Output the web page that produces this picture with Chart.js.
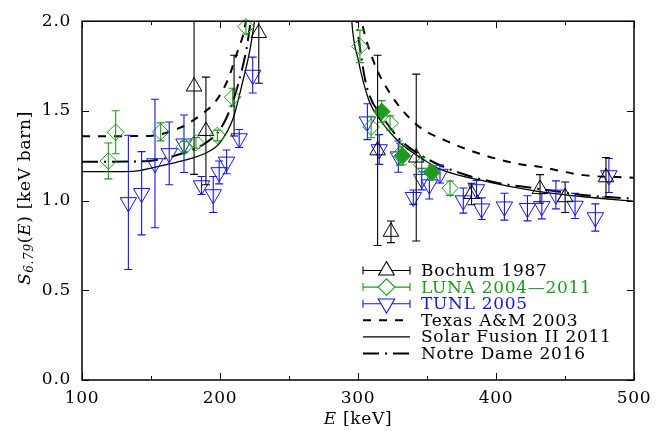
<!DOCTYPE html>
<html><head><meta charset="utf-8">
<script src="https://cdn.jsdelivr.net/npm/chart.js@4/dist/chart.umd.min.js"></script>
<style>html,body{margin:0;padding:0;background:#fff;}#wrap{position:relative;width:663px;height:431px;}</style>
</head><body><div id="wrap"><canvas id="c" width="663" height="431"></canvas></div>
<script>
// ---------- data (E in keV, S in keV barn) ----------
const bochumE   = [181.2, 189.8, 210.2, 228.1, 314.2, 323.9, 342.2, 382.3, 431.9, 450.1, 479.7];
const bochumS   = [1.636, 1.388, 1.585, 1.934, 1.28, 0.826, 1.24, 1.037, 1.065, 1.019, 1.13];
const bochumErr = [0.49, 0.30, 0.225, 0.28, 0.53, 0.06, 0.465, 0.06, 0.08, 0.085, 0.11];
const bochumHidden = [0, 0, 1, 0, 0, 0, 0, 0, 0, 0, 0];   // marker hidden behind a LUNA point

const lunaE   = [119.1, 124.4, 157.0, 174.2, 182.6, 198.1, 209.2, 218.8, 301.4, 309.5, 317.2, 323.2, 330.4, 332.3, 346.2, 353.5, 366.7];
const lunaS   = [1.221, 1.381, 1.383, 1.30, 1.322, 1.363, 1.576, 1.969, 1.859, 1.41, 1.497, 1.432, 1.258, 1.25, 1.20, 1.157, 1.069];
const lunaErr = [0.10, 0.12, 0.05, 0.03, 0.03, 0.03, 0.05, 0.04, 0.09, 0.06, 0.06, 0.04, 0.06, 0.05, 0.04, 0.04, 0.04];
const lunaFilled = [0,0,0,0,0,0,0,0,0,0,1,0,0,1,0,1,0];

const tunlE   = [133.6, 143.2, 152.9, 163.2, 173.9, 186.6, 195.1, 199.4, 204.8, 213.9, 223.7, 306.8, 315.4, 329.2, 340.1, 346.2, 351.7, 359.4, 376.3, 385.9, 389.6, 406.1, 422.8, 433.2, 443.4, 457.3, 472.0, 481.8];
const tunlS   = [0.99, 1.041, 1.207, 1.263, 1.317, 1.084, 1.034, 1.157, 1.216, 1.346, 1.70, 1.44, 1.285, 1.245, 1.019, 1.12, 1.089, 1.148, 1.0, 1.062, 0.955, 0.966, 0.957, 0.968, 1.032, 0.97, 0.906, 1.14];
const tunlErr = [0.374, 0.232, 0.358, 0.175, 0.16, 0.05, 0.10, 0.064, 0.066, 0.05, 0.10, 0.10, 0.083, 0.087, 0.04, 0.06, 0.08, 0.05, 0.07, 0.05, 0.06, 0.075, 0.07, 0.07, 0.078, 0.07, 0.076, 0.095];

// curves, left and right branches of the resonance
const texasLeftE  = [100, 146.7, 170.7, 185.2, 197.6, 206.0, 212.1, 216.9, 220];
const texasLeftS  = [1.359, 1.36, 1.405, 1.473, 1.561, 1.68, 1.818, 1.928, 2.05];
const texasRightE = [301.5, 302.7, 311.1, 323.2, 342.5, 364.3, 392, 417.4, 432, 463, 500];
const texasRightS = [2.06, 2.0, 1.78, 1.598, 1.423, 1.332, 1.252, 1.203, 1.188, 1.142, 1.128];

const sf2LeftE  = [100, 136.7, 152.6, 170.7, 190.2, 199.9, 209.6, 216.7, 221.6, 225, 227];
const sf2LeftS  = [1.161, 1.163, 1.185, 1.218, 1.267, 1.322, 1.46, 1.671, 1.836, 2.0, 2.12];
const sf2RightE = [295, 295.5, 300.3, 303.9, 308.7, 315.9, 330.4, 347.3, 359.4, 395.7, 427, 465, 500];
const sf2RightS = [2.08, 2.0, 1.78, 1.66, 1.543, 1.451, 1.322, 1.23, 1.175, 1.102, 1.056, 1.02, 0.996];

const ndLeftE  = [100, 145.7, 170.7, 189.4, 199.9, 207.2, 213.3, 219.4, 222.2, 224];
const ndLeftS  = [1.216, 1.22, 1.258, 1.32, 1.395, 1.506, 1.653, 1.855, 2.0, 2.1];
const ndRightE = [298, 299, 302, 306.3, 318.4, 330.4, 347.3, 371.5, 400.5, 427, 465, 500];
const ndRightS = [2.08, 2.0, 1.82, 1.635, 1.46, 1.34, 1.245, 1.16, 1.10, 1.07, 1.03, 1.01];

const xTicks = [100, 200, 300, 400, 500];
const yTicks = [0.0, 0.5, 1.0, 1.5, 2.0];
const legendLabels = ['Bochum 1987', 'LUNA 2004\u20142011', 'TUNL 2005', 'Texas A&M 2003', 'Solar Fusion II 2011', 'Notre Dame 2016'];

// ---------- styles ----------
const FONT = '"DejaVu Serif", serif';
const BLACK = '#000000', GREEN = '#1e9a1e', BLUE = '#1414f0';
const DASH_TEXAS = [8, 8], DASH_ND = [16, 6, 2, 6];

const pts = (xs, ys) => xs.map((x, i) => ({x, y: ys[i]}));

function markerSet(label, xs, ys, errs, color, style, radius, rot, bg) {
  return {
    label, data: pts(xs, ys), errors: errs,
    showLine: false, borderColor: color, pointBorderColor: color,
    pointBackgroundColor: bg || 'rgba(0,0,0,0)', pointStyle: style,
    pointRadius: radius, pointBorderWidth: 1, pointRotation: rot, clip: false
  };
}
function curveSet(label, xs, ys, dash, width) {
  return {
    label, data: pts(xs, ys), showLine: true, pointRadius: 0, borderColor: BLACK,
    borderWidth: width, borderDash: dash, fill: false,
    cubicInterpolationMode: 'monotone'
  };
}

const datasets = [
  markerSet('Bochum 1987', bochumE, bochumS, bochumErr, BLACK, 'triangle', bochumHidden.map(h => h ? 0 : 9), 0),
  markerSet('LUNA', lunaE, lunaS, lunaErr, GREEN, 'rectRot', 8.3, 0, lunaFilled.map(f => f ? GREEN : 'rgba(0,0,0,0)')),
  markerSet('TUNL 2005', tunlE, tunlS, tunlErr, BLUE, 'triangle', 9.5, 180),
  curveSet('Texas L', texasLeftE, texasLeftS, DASH_TEXAS, 2),
  curveSet('Texas R', texasRightE, texasRightS, DASH_TEXAS, 2),
  curveSet('SF2 L', sf2LeftE, sf2LeftS, [], 1.3),
  curveSet('SF2 R', sf2RightE, sf2RightS, [], 1.3),
  curveSet('ND L', ndLeftE, ndLeftS, DASH_ND, 2),
  curveSet('ND R', ndRightE, ndRightS, DASH_ND, 2)
];

// ---------- plugins ----------
const errorBars = {
  id: 'errorBars',
  beforeDatasetDraw(chart, args) {
    const ds = chart.data.datasets[args.index];
    if (!ds.errors) return;
    const ctx = chart.ctx, ys = chart.scales.y, ca = chart.chartArea;
    ctx.save();
    ctx.beginPath(); ctx.rect(ca.left, ca.top, ca.right - ca.left, ca.bottom - ca.top); ctx.clip();
    ctx.strokeStyle = ds.borderColor; ctx.lineWidth = 1.1; ctx.setLineDash([]);
    args.meta.data.forEach((el, i) => {
      const d = ds.data[i], e = ds.errors[i];
      const yt = ys.getPixelForValue(d.y + e), yb = ys.getPixelForValue(d.y - e);
      const x = el.x;
      ctx.beginPath();
      ctx.moveTo(x, yt); ctx.lineTo(x, yb);
      ctx.moveTo(x - 4, yt); ctx.lineTo(x + 4, yt);
      ctx.moveTo(x - 4, yb); ctx.lineTo(x + 4, yb);
      ctx.stroke();
    });
    ctx.restore();
  }
};

function drawTri(ctx, x, y, r, down) {
  const s = down ? -1 : 1;
  ctx.beginPath();
  ctx.moveTo(x, y - s * r);
  ctx.lineTo(x + r * 0.866, y + s * r * 0.5);
  ctx.lineTo(x - r * 0.866, y + s * r * 0.5);
  ctx.closePath(); ctx.stroke();
}
function drawDiamond(ctx, x, y, r) {
  ctx.beginPath();
  ctx.moveTo(x - r, y); ctx.lineTo(x, y - r); ctx.lineTo(x + r, y); ctx.lineTo(x, y + r);
  ctx.closePath(); ctx.stroke();
}
function richWidth(ctx, parts) {
  let w = 0;
  parts.forEach(p => { ctx.font = p.f; w += ctx.measureText(p.t).width; });
  return w;
}
function drawRich(ctx, parts, x, y) {
  let cx = x;
  parts.forEach(p => { ctx.font = p.f; ctx.fillText(p.t, cx, y + (p.dy || 0)); cx += ctx.measureText(p.t).width; });
}

const frameAndText = {
  id: 'frameAndText',
  beforeDraw(chart) { try { chart.ctx.letterSpacing = '0.7px'; } catch (e) {} },
  afterDraw(chart) {
    const ctx = chart.ctx, ca = chart.chartArea, xs = chart.scales.x, ys = chart.scales.y;
    ctx.save();
    ctx.setLineDash([]);
    ctx.strokeStyle = BLACK;
    // inward ticks
    ctx.lineWidth = 1;
    ctx.beginPath();
    for (let v = 100; v <= 500; v += 50) {
      const x = Math.round(xs.getPixelForValue(v)) + 0.5;
      const L = (v % 100 === 0) ? 7 : 4;
      ctx.moveTo(x, ca.bottom); ctx.lineTo(x, ca.bottom - L);
      ctx.moveTo(x, ca.top); ctx.lineTo(x, ca.top + L);
    }
    yTicks.forEach(v => {
      const y = Math.round(ys.getPixelForValue(v)) + 0.5;
      ctx.moveTo(ca.left, y); ctx.lineTo(ca.left + 7, y);
      ctx.moveTo(ca.right, y); ctx.lineTo(ca.right - 7, y);
    });
    ctx.stroke();
    // frame
    ctx.lineWidth = 1.5;
    ctx.strokeRect(ca.left, ca.top, ca.right - ca.left, ca.bottom - ca.top);

    // legend
    const x1 = 363, x2 = 410, xm = 386.5, tx = 421, y0 = 270.5, dy = 16.6;
    ctx.textBaseline = 'middle'; ctx.textAlign = 'left';
    const font = '17px ' + FONT;
    const cols = [BLACK, GREEN, BLUE, BLACK, BLACK, BLACK];
    for (let i = 0; i < 6; i++) {
      const y = y0 + i * dy;
      ctx.strokeStyle = cols[i];
      ctx.lineWidth = (i === 4) ? 1.3 : (i >= 3 ? 2 : 1.1);
      ctx.setLineDash(i === 3 ? DASH_TEXAS : (i === 5 ? DASH_ND : []));
      ctx.beginPath(); ctx.moveTo(x1, y); ctx.lineTo(x2, y); ctx.stroke();
      ctx.setLineDash([]);
      if (i < 3) {
        ctx.lineWidth = 1.1;
        ctx.beginPath();
        ctx.moveTo(x1, y - 4); ctx.lineTo(x1, y + 4);
        ctx.moveTo(x2, y - 4); ctx.lineTo(x2, y + 4);
        ctx.stroke();
        ctx.fillStyle = '#fff';
        if (i === 0) { ctx.beginPath(); ctx.moveTo(xm, y - 9); ctx.lineTo(xm + 7.8, y + 4.5); ctx.lineTo(xm - 7.8, y + 4.5); ctx.closePath(); ctx.fill(); drawTri(ctx, xm, y, 9, false); }
        if (i === 1) { ctx.beginPath(); ctx.moveTo(xm - 8.3, y); ctx.lineTo(xm, y - 8.3); ctx.lineTo(xm + 8.3, y); ctx.lineTo(xm, y + 8.3); ctx.closePath(); ctx.fill(); drawDiamond(ctx, xm, y, 8.3); }
        if (i === 2) { ctx.beginPath(); ctx.moveTo(xm, y + 9.5); ctx.lineTo(xm + 8.2, y - 4.75); ctx.lineTo(xm - 8.2, y - 4.75); ctx.closePath(); ctx.fill(); drawTri(ctx, xm, y, 9.5, true); }
      }
      ctx.fillStyle = cols[i];
      ctx.font = font;
      ctx.fillText(legendLabels[i], tx, y + 1);
    }

    // axis titles
    ctx.fillStyle = BLACK;
    const it = 'italic 17px ' + FONT, rm = '17px ' + FONT, sub = 'italic 12px ' + FONT;
    const xParts = [{t: 'E', f: it}, {t: ' [keV]', f: rm}];
    const xw = richWidth(ctx, xParts);
    ctx.textBaseline = 'middle';
    drawRich(ctx, xParts, (ca.left + ca.right) / 2 - xw / 2, 420);

    const yParts = [{t: 'S', f: it}, {t: '6.79', f: sub, dy: 4}, {t: '(', f: rm}, {t: 'E', f: it}, {t: ')', f: rm}, {t: ' [keV barn]', f: rm}];
    const yw = richWidth(ctx, yParts);
    ctx.translate(26, 198);
    ctx.rotate(-Math.PI / 2);
    drawRich(ctx, yParts, -yw / 2, 0);
    ctx.restore();
    try { ctx.letterSpacing = '0px'; } catch (e) {}
  }
};

new Chart(document.getElementById('c'), {
  type: 'scatter',
  data: { datasets },
  options: {
    responsive: false, animation: false, events: [], devicePixelRatio: 1,
    layout: { padding: { left: 0, right: 29, top: 17, bottom: 0 } },
    plugins: { legend: { display: false }, tooltip: { enabled: false } },
    scales: {
      x: {
        type: 'linear', min: 100, max: 500,
        afterFit: s => { s.height = 51; },
        afterBuildTicks: s => { s.ticks = xTicks.map(v => ({value: v})); },
        grid: { display: false, drawTicks: false }, border: { display: false },
        ticks: { color: BLACK, font: { family: FONT, size: 17 }, padding: 8, maxRotation: 0, autoSkip: false,
                 callback: v => String(v) }
      },
      y: {
        type: 'linear', min: 0, max: 2,
        afterFit: s => { s.width = 82; },
        afterBuildTicks: s => { s.ticks = yTicks.map(v => ({value: v})); },
        grid: { display: false, drawTicks: false }, border: { display: false },
        ticks: { color: BLACK, font: { family: FONT, size: 17 }, padding: 11,
                 callback: v => Number(v).toFixed(1) }
      }
    }
  },
  plugins: [errorBars, frameAndText]
});
</script></body></html>
